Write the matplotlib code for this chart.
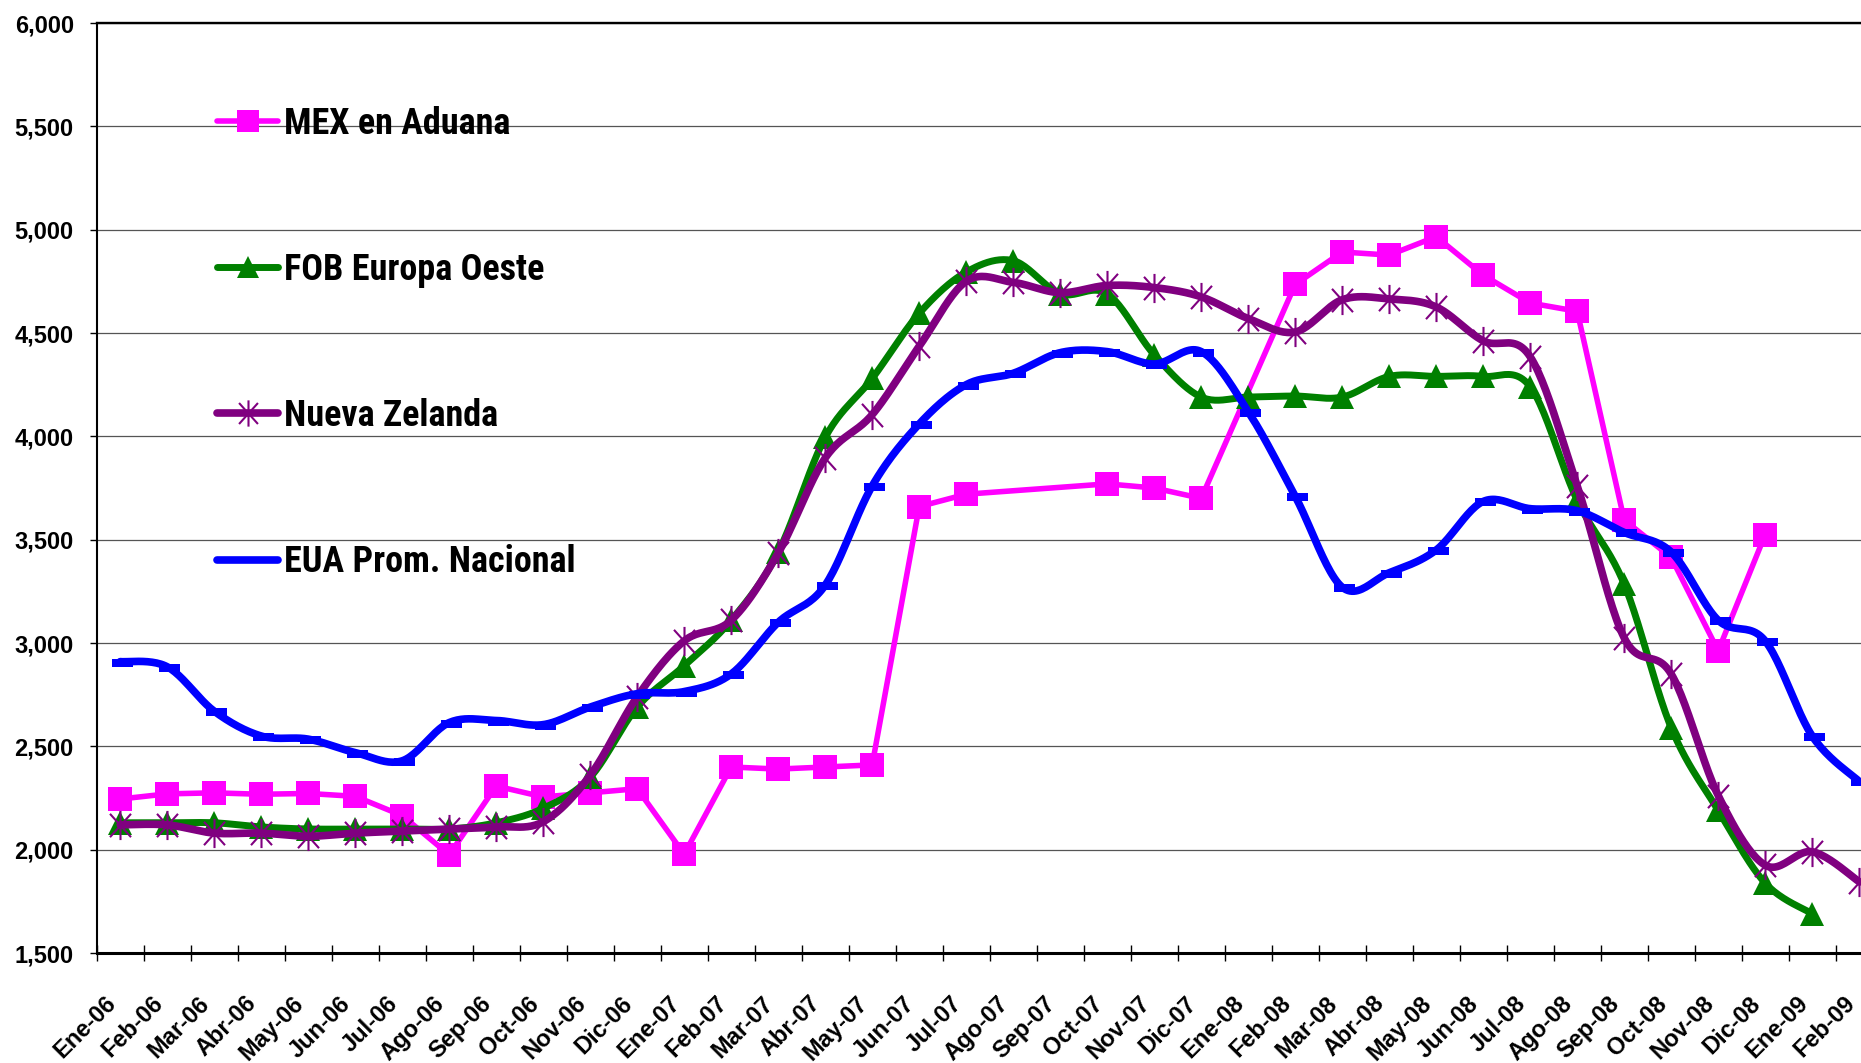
import numpy as np
import matplotlib
matplotlib.use("Agg")
import matplotlib.pyplot as plt
from matplotlib import font_manager
from matplotlib.path import Path
from matplotlib.lines import Line2D
from matplotlib.patches import Rectangle

# --- datos ---
meses = ["Ene-06", "Feb-06", "Mar-06", "Abr-06", "May-06", "Jun-06", "Jul-06", "Ago-06",
         "Sep-06", "Oct-06", "Nov-06", "Dic-06", "Ene-07", "Feb-07", "Mar-07", "Abr-07",
         "May-07", "Jun-07", "Jul-07", "Ago-07", "Sep-07", "Oct-07", "Nov-07", "Dic-07",
         "Ene-08", "Feb-08", "Mar-08", "Abr-08", "May-08", "Jun-08", "Jul-08", "Ago-08",
         "Sep-08", "Oct-08", "Nov-08", "Dic-08", "Ene-09", "Feb-09"]

nan = np.nan
mex_aduana = [2245, 2270, 2275, 2268, 2272, 2258, 2165, 1975, 2308, 2255, 2275, 2295,
              1978, 2400, 2390, 2400, 2410, 3660, 3720, nan, nan, 3770, 3750, 3700,
              nan, 4735, 4892, 4877, 4966, 4780, 4645, 4605, 3595, 3414, 2962, 3525,
              nan, nan]
fob_europa = [2130, 2130, 2130, 2110, 2100, 2100, 2100, 2100, 2130, 2200, 2350, 2690,
              2890, 3110, 3440, 3995, 4280, 4595, 4795, 4850, 4690, 4690, 4395, 4190,
              4190, 4195, 4190, 4290, 4290, 4290, 4240, 3690, 3285, 2590, 2190, 1838,
              1690, nan]
nueva_zelanda = [2120, 2120, 2080, 2080, 2065, 2080, 2090, 2100, 2110, 2135, 2360, 2740,
                 3010, 3110, 3435, 3895, 4105, 4436, 4750, 4745, 4695, 4730, 4720, 4675,
                 4570, 4505, 4661, 4665, 4626, 4462, 4385, 3760, 3025, 2850, 2262, 1925,
                 1990, 1845]
eua_nacional = [2910, 2885, 2670, 2550, 2535, 2470, 2430, 2615, 2625, 2605, 2690, 2755,
                2765, 2850, 3100, 3280, 3760, 4060, 4250, 4305, 4405, 4410, 4350, 4410,
                4120, 3710, 3270, 3340, 3450, 3685, 3650, 3640, 3535, 3440, 3110, 3010,
                2550, 2330]


def suavizar(x, y, n=24):
    """Curva suavizada tipo Excel (Bezier con puntos de control Catmull-Rom)."""
    p = np.column_stack([x, y]).astype(float)
    out = []
    for i in range(len(p) - 1):
        p0 = p[i - 1] if i > 0 else p[i]
        p3 = p[i + 2] if i + 2 < len(p) else p[i + 1]
        c1 = p[i] + (p[i + 1] - p0) / 6.0
        c2 = p[i + 1] - (p3 - p[i]) / 6.0
        t = np.linspace(0, 1, n, endpoint=(i == len(p) - 2))[:, None]
        seg = ((1 - t) ** 3) * p[i] + 3 * ((1 - t) ** 2) * t * c1 \
            + 3 * (1 - t) * t ** 2 * c2 + t ** 3 * p[i + 1]
        out.append(seg)
    out = np.vstack(out)
    return out[:, 0], out[:, 1]


# fuentes
nombres = {f.name for f in font_manager.fontManager.ttflist}
fuente = "Liberation Sans" if "Liberation Sans" in nombres else "DejaVu Sans"
plt.rcParams["font.family"] = [fuente, "DejaVu Sans"]

# fuente angosta para la leyenda, si existe alguna
prop_ley = {"family": fuente, "weight": "bold", "size": 22.5}
for cand in ["Liberation Sans Narrow", "Arial Narrow", "Roboto Condensed",
             "Open Sans Condensed", "Nimbus Sans Narrow"]:
    if cand in nombres:
        prop_ley = {"family": cand, "weight": "bold", "size": 26}
        break

# marcadores personalizados
estrella = Path([(0, -1), (0, 1), (-0.72, -0.8), (0.72, 0.8), (-0.72, 0.8), (0.72, -0.8)],
                [Path.MOVETO, Path.LINETO, Path.MOVETO, Path.LINETO, Path.MOVETO, Path.LINETO])
guion = Path([(-0.6, -0.35), (1.0, -0.35), (1.0, 0.25), (-0.6, 0.25), (-0.6, -0.35)],
             [Path.MOVETO, Path.LINETO, Path.LINETO, Path.LINETO, Path.CLOSEPOLY])

# nombre, valores, color, grosor, marcador, tamano, extras, zorder, suavizado
series = [
    ("MEX en Aduana", mex_aduana, "#FF00FF", 4.0, "s", 17, {"mew": 0}, 3, False),
    ("FOB Europa Oeste", fob_europa, "#008000", 5.0, "^", 17, {"mew": 0}, 4, True),
    ("Nueva Zelanda", nueva_zelanda, "#800080", 5.5, estrella, 21,
     {"mew": 1.5, "mfc": "none"}, 5, True),
    ("EUA Prom. Nacional", eua_nacional, "#0000FF", 5.5, guion, 19, {"mew": 0}, 6, True),
]

fig = plt.figure(figsize=(18.61, 10.63), dpi=100)
ax = fig.add_axes([96.7 / 1861, 1 - 953 / 1063, 1 - 96.7 / 1861, 930 / 1063])

x = np.arange(len(meses))
handles = []
for nombre, vals, color, lw, mk, ms, kw, z, suave in series:
    v = np.array(vals, dtype=float)
    ok = ~np.isnan(v)
    if suave:
        xs, ys = suavizar(x[ok], v[ok])
    else:
        xs, ys = x[ok], v[ok]
    ax.plot(xs, ys, color=color, lw=lw, solid_capstyle="round",
            solid_joinstyle="round", zorder=z)
    ax.plot(x[ok], v[ok], ls="none", marker=mk, ms=ms, color=color,
            mec=color, zorder=z + 0.1, **kw)
    if nombre == "EUA Prom. Nacional":
        h = Line2D([], [], color=color, lw=lw, solid_capstyle="round")
    else:
        h = Line2D([], [], color=color, lw=lw, solid_capstyle="round", marker=mk,
                   ms=ms * 0.9, mec=color, **kw)
    handles.append((h, nombre))

# ejes
ax.spines["right"].set_visible(False)
ax.spines["left"].set_linewidth(1.5)
ax.spines["top"].set_linewidth(1.7)
ax.spines["bottom"].set_linewidth(2.2)
ax.spines["bottom"].set_zorder(7)

ax.set_yticks(np.arange(1500, 6001, 500))
ax.set_yticklabels([f"{v:,}" for v in range(1500, 6001, 500)],
                   fontsize=17, fontweight="bold")
ax.tick_params(axis="y", direction="out", length=5, width=1, pad=11.5)
ax.grid(axis="y", color="#555555", lw=0.9, zorder=0.5)

ax.set_xticks(x)
ax.set_xticklabels(meses, rotation=45, ha="right", va="top",
                   fontsize=17, fontweight="bold")
ax.tick_params(axis="x", length=0, pad=28)
ax.set_xticks(np.arange(-0.5, len(meses), 1.0), minor=True)
ax.tick_params(axis="x", which="minor", direction="inout", length=11, width=1)

# limites despues de los ticks (set_xticks amplia la vista)
ax.set_xlim(-0.5, -0.5 + (1861 - 96.7) / 47.0)
ax.set_ylim(1500, 6000)

# caja blanca de la leyenda
ax.add_patch(Rectangle((0.0308, 0.38), 0.275, 0.612, transform=ax.transAxes,
                       facecolor="white", edgecolor="none", zorder=1))
leg = ax.legend([h for h, _ in handles], [n for _, n in handles],
                loc="upper left", bbox_to_anchor=(0.0682, 0.911), frameon=False,
                prop=prop_ley, handlelength=1.7 * 26 / prop_ley["size"],
                handletextpad=0.15, labelspacing=3.05 * 26 / prop_ley["size"],
                borderaxespad=0, borderpad=0)
leg.set_zorder(8)

fig.savefig("out.png", dpi=100)
